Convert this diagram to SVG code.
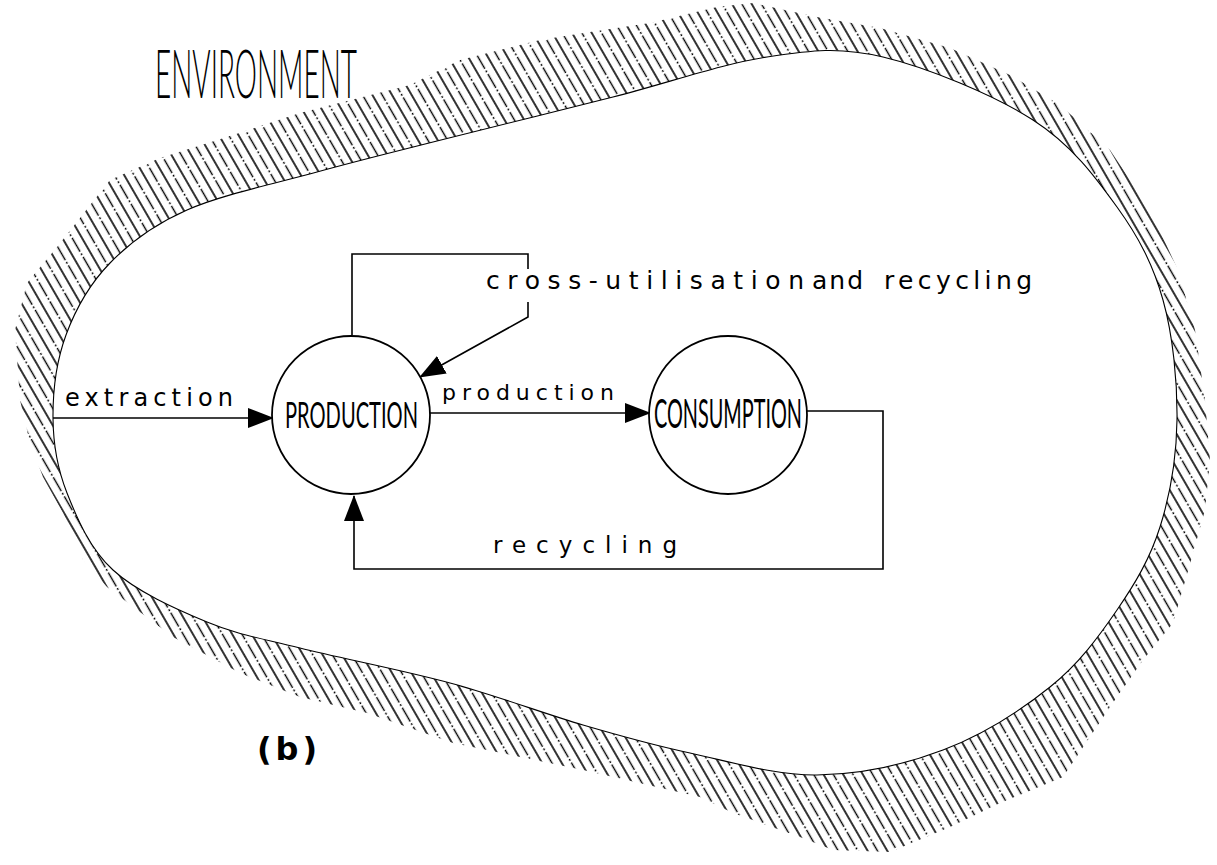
<svg xmlns="http://www.w3.org/2000/svg" width="1217" height="865" viewBox="0 0 1217 865">
<style>
.ln{fill:none;stroke:#000;stroke-width:1.6}
.nd{fill:#fff;stroke:#000;stroke-width:1.8}
.cap{font-family:"Lato","Liberation Sans",Arial,sans-serif;font-weight:400;fill:#000}
.capl{font-family:"Lato","Liberation Sans",Arial,sans-serif;font-weight:300;fill:#000}
.lab{font-family:"DejaVu Sans","Liberation Sans",sans-serif;fill:#000}
</style>
<defs>
<pattern id="hatch" patternUnits="userSpaceOnUse" width="17" height="44" patternTransform="rotate(-30)">
<line x1="3" y1="0" x2="3" y2="44" stroke="#000" stroke-width="1.6"/>
<line x1="11.5" y1="0" x2="11.5" y2="44" stroke="#000" stroke-width="1.4" stroke-dasharray="16 2 2 2"/>
</pattern>
<marker id="arr" markerUnits="userSpaceOnUse" markerWidth="26" markerHeight="20" refX="25" refY="10" orient="auto" viewBox="0 0 26 20">
<path d="M0,0 L26,10 L0,20 Z" fill="#000"/>
</marker>
</defs>
<rect width="1217" height="865" fill="#fff"/>

<g id="environment">
<path fill="url(#hatch)" fill-rule="evenodd" d="M15,330 L27,283 L57,247 L110,180 L160,158 L227,137 L300,113 L410,85 L460,60 L540,40 L590,32 L650,23 L717,7 L753,3 L817,17 L880,28 L950,48 L1010,75 L1060,105 L1110,150 L1150,210 L1178,270 L1195,330 L1205,400 L1210,460 L1205,510 L1192,557 L1173,623 L1143,660 L1110,707 L1063,777 L1000,803 L950,827 L890,852 L833,850 L800,837 L733,813 L700,797 L583,770 L453,743 L367,713 L300,697 L240,673 L173,637 L107,587 L83,560 L63,513 L43,477 L30,443 L20,400 Z
M53,418 C52.8,391.7 56.5,360.8 66,335 C75.5,309.2 89.8,283.8 110,263 C130.2,242.2 152.5,225.2 187,210 C221.5,194.8 276,183.3 317,172 C358,160.7 383.7,154.5 433,142 C482.3,129.5 557.3,111.2 613,97 C668.7,82.8 722,63.7 767,57 C812,50.3 838.7,46.5 883,57 C927.3,67.5 994,95 1033,120 C1072,145 1095.3,177 1117,207 C1138.7,237 1153,264.5 1163,300 C1173,335.5 1177.5,382.2 1177,420 C1176.5,457.8 1170,495.3 1160,527 C1150,558.7 1135.3,583.3 1117,610 C1098.7,636.7 1079,663.7 1050,687 C1021,710.3 981.8,735.3 943,750 C904.2,764.7 859.2,774.5 817,775 C774.8,775.5 729,761.3 690,753 C651,744.7 623,736.7 583,725 C543,713.3 497.2,695.8 450,683 C402.8,670.2 340.5,658.2 300,648 C259.5,637.8 238.2,635 207,622 C175.8,609 136.3,591.5 113,570 C89.7,548.5 77,518.3 67,493 C57,467.7 53.2,444.3 53,418 Z"/>
<path fill="none" stroke="#000" stroke-width="1.1" d="M53,418 C52.8,391.7 56.5,360.8 66,335 C75.5,309.2 89.8,283.8 110,263 C130.2,242.2 152.5,225.2 187,210 C221.5,194.8 276,183.3 317,172 C358,160.7 383.7,154.5 433,142 C482.3,129.5 557.3,111.2 613,97 C668.7,82.8 722,63.7 767,57 C812,50.3 838.7,46.5 883,57 C927.3,67.5 994,95 1033,120 C1072,145 1095.3,177 1117,207 C1138.7,237 1153,264.5 1163,300 C1173,335.5 1177.5,382.2 1177,420 C1176.5,457.8 1170,495.3 1160,527 C1150,558.7 1135.3,583.3 1117,610 C1098.7,636.7 1079,663.7 1050,687 C1021,710.3 981.8,735.3 943,750 C904.2,764.7 859.2,774.5 817,775 C774.8,775.5 729,761.3 690,753 C651,744.7 623,736.7 583,725 C543,713.3 497.2,695.8 450,683 C402.8,670.2 340.5,658.2 300,648 C259.5,637.8 238.2,635 207,622 C175.8,609 136.3,591.5 113,570 C89.7,548.5 77,518.3 67,493 C57,467.7 53.2,444.3 53,418 Z"/>
<text class="capl" transform="translate(155,98) scale(0.42,1)" x="0" y="0" font-size="67" textLength="481" lengthAdjust="spacingAndGlyphs">ENVIRONMENT</text>
</g>

<g id="connectors">
<path class="ln" d="M53,418 H273" marker-end="url(#arr)"/>
<path class="ln" d="M430,413 H650" marker-end="url(#arr)"/>
<path class="ln" d="M807,411 H883 V569 H354 V496" marker-end="url(#arr)"/>
<path class="ln" d="M352,335 V254 H528 V269"/>
<path class="ln" d="M528,302 V317 L420,377" marker-end="url(#arr)"/>
<text class="lab" x="65" y="406" font-size="24" textLength="168" lengthAdjust="spacing">extraction</text>
<text class="lab" x="442" y="400" font-size="22" textLength="172" lengthAdjust="spacing">production</text>
<text class="lab" x="493" y="553" font-size="23" textLength="184" lengthAdjust="spacing">recycling</text>
<text class="lab" font-size="25" y="289"><tspan x="486" textLength="318" lengthAdjust="spacing">cross-utilisation</tspan> <tspan x="812" textLength="51" lengthAdjust="spacing">and</tspan> <tspan x="884" textLength="148" lengthAdjust="spacing">recycling</tspan></text>
</g>

<g id="production">
<circle class="nd" cx="351" cy="415" r="79"/>
<text class="cap" transform="translate(285,428) scale(0.5,1)" x="0" y="0" font-size="37" textLength="266" lengthAdjust="spacingAndGlyphs">PRODUCTION</text>
</g>

<g id="consumption">
<circle class="nd" cx="728" cy="415" r="79"/>
<text class="cap" transform="translate(654,428) scale(0.5,1)" x="0" y="0" font-size="40" textLength="296" lengthAdjust="spacingAndGlyphs">CONSUMPTION</text>
</g>

<g id="caption">
<text class="lab" x="257" y="760" font-size="32" font-weight="bold" textLength="60" lengthAdjust="spacing">(b)</text>
</g>
</svg>
